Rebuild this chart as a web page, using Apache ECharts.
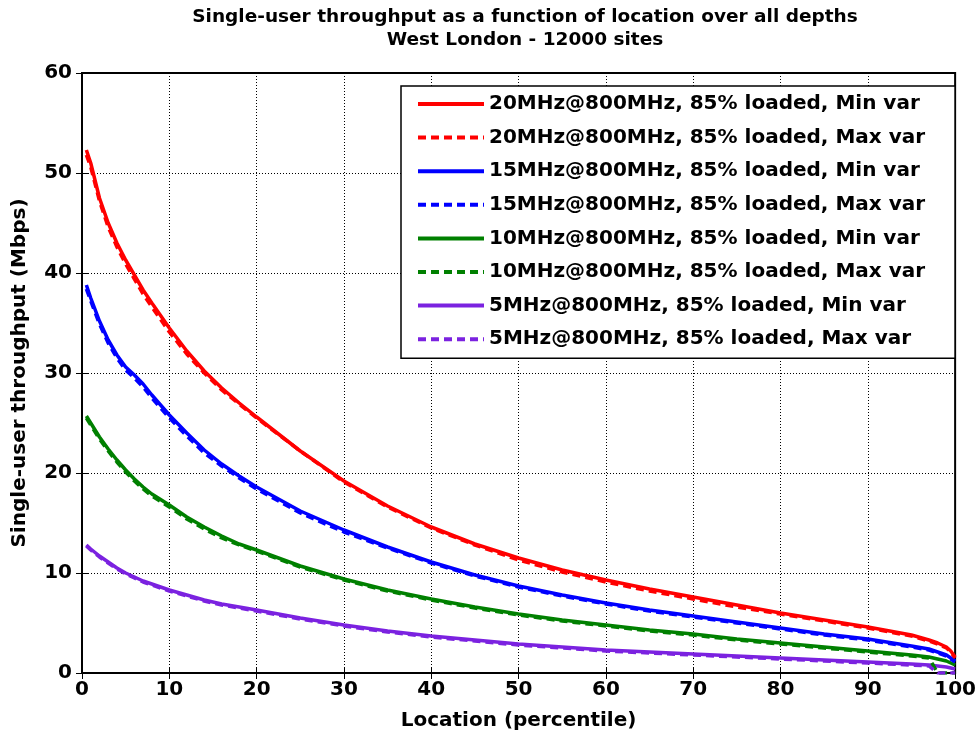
<!DOCTYPE html>
<html>
<head>
<meta charset="utf-8">
<script src="https://cdn.jsdelivr.net/npm/echarts@6/dist/echarts.min.js"></script>
<style>
  html, body { margin: 0; padding: 0; background: #fff; }
  #chart { width: 979px; height: 740px; }
</style>
</head>
<body>
<div id="chart"></div>
<script>
// percentile positions shared by all curves
const locations = [0.5, 1, 2, 3, 4, 5, 6, 7, 8, 10, 12, 14, 16, 18, 20, 25, 30, 35, 40, 45, 50, 55, 60, 65, 70, 75, 80, 85, 90, 95, 97, 98, 99, 99.5, 100];

const red20Min = [52.3, 51.0, 47.5, 45.0, 43.0, 41.3, 39.8, 38.3, 37.0, 34.5, 32.2, 30.2, 28.5, 27.0, 25.6, 22.2, 19.2, 16.7, 14.6, 12.9, 11.5, 10.3, 9.3, 8.4, 7.6, 6.8, 6.0, 5.3, 4.6, 3.8, 3.3, 3.0, 2.6, 2.2, 1.6];
const red20Max = [51.8, 50.6, 47.2, 44.6, 42.6, 40.9, 39.4, 37.9, 36.6, 34.1, 31.9, 30.0, 28.3, 26.9, 25.5, 22.2, 19.1, 16.6, 14.5, 12.8, 11.3, 10.1, 9.1, 8.2, 7.4, 6.6, 5.9, 5.2, 4.5, 3.7, 3.2, 2.9, 2.5, 2.1, 1.5];
const blue15Min = [38.8, 37.5, 35.2, 33.3, 31.8, 30.6, 29.8, 28.9, 27.8, 25.8, 24.0, 22.3, 20.9, 19.7, 18.6, 16.2, 14.3, 12.6, 11.1, 9.8, 8.7, 7.8, 7.0, 6.3, 5.7, 5.1, 4.5, 3.9, 3.4, 2.7, 2.4, 2.1, 1.8, 1.5, 1.2];
const blue15Max = [38.4, 37.2, 34.9, 33.0, 31.5, 30.3, 29.5, 28.6, 27.5, 25.5, 23.7, 22.0, 20.7, 19.5, 18.4, 16.0, 14.1, 12.5, 11.0, 9.7, 8.6, 7.7, 6.9, 6.2, 5.6, 5.0, 4.4, 3.8, 3.3, 2.6, 2.3, 2.0, 1.7, 1.4, 1.1];
const green10Min = [25.7, 25.0, 23.6, 22.4, 21.3, 20.3, 19.4, 18.6, 17.9, 16.8, 15.6, 14.6, 13.7, 12.9, 12.3, 10.7, 9.4, 8.3, 7.4, 6.6, 5.9, 5.3, 4.8, 4.3, 3.9, 3.4, 3.0, 2.6, 2.2, 1.8, 1.6, 1.4, 1.2, 1.0, 0.8];
const green10Max = [25.5, 24.8, 23.4, 22.2, 21.1, 20.1, 19.2, 18.4, 17.7, 16.6, 15.4, 14.4, 13.5, 12.8, 12.2, 10.6, 9.3, 8.2, 7.3, 6.5, 5.8, 5.2, 4.7, 4.2, 3.8, 3.3, 2.9, 2.5, 2.1, 1.7, 1.5, 0, 0, 0, 0];
const purple5Min = [12.8, 12.4, 11.7, 11.1, 10.5, 10.0, 9.6, 9.2, 8.9, 8.3, 7.8, 7.3, 6.9, 6.6, 6.3, 5.5, 4.8, 4.2, 3.7, 3.3, 2.9, 2.6, 2.3, 2.1, 1.9, 1.7, 1.5, 1.3, 1.1, 0.9, 0.8, 0.7, 0.6, 0.5, 0.4];
const purple5Max = [12.7, 12.3, 11.6, 11.0, 10.4, 9.9, 9.5, 9.1, 8.8, 8.2, 7.7, 7.2, 6.8, 6.5, 6.2, 5.4, 4.7, 4.1, 3.6, 3.2, 2.8, 2.5, 2.2, 2.0, 1.8, 1.6, 1.4, 1.2, 1.0, 0.8, 0.7, 0, 0, 0, 0];

const xTicks = [0, 10, 20, 30, 40, 50, 60, 70, 80, 90, 100];
const yTicks = [0, 10, 20, 30, 40, 50, 60];

const curves = [
  { name: '20MHz@800MHz, 85% loaded, Min var', color: '#ff0000', dashed: false, values: red20Min },
  { name: '20MHz@800MHz, 85% loaded, Max var', color: '#ff0000', dashed: true, values: red20Max },
  { name: '15MHz@800MHz, 85% loaded, Min var', color: '#0000ff', dashed: false, values: blue15Min },
  { name: '15MHz@800MHz, 85% loaded, Max var', color: '#0000ff', dashed: true, values: blue15Max },
  { name: '10MHz@800MHz, 85% loaded, Min var', color: '#008000', dashed: false, values: green10Min },
  { name: '10MHz@800MHz, 85% loaded, Max var', color: '#008000', dashed: true, values: green10Max },
  { name: '5MHz@800MHz, 85% loaded, Min var', color: '#7b22e0', dashed: false, values: purple5Min },
  { name: '5MHz@800MHz, 85% loaded, Max var', color: '#7b22e0', dashed: true, values: purple5Max },
];

const chart = echarts.init(document.getElementById('chart'));

const font = '"DejaVu Sans", sans-serif';
const boldText = (size) => ({ fontSize: size, fontWeight: 'bold', color: '#000', fontFamily: font });

const option = {
  animation: false,
  backgroundColor: '#fff',
  title: {
    text: 'Single-user throughput as a function of location over all depths\nWest London - 12000 sites',
    left: 520,
    top: 1,
    textAlign: 'center',
    textStyle: { ...boldText(18.5), lineHeight: 23 },
  },
  grid: {
    left: 82,
    right: 21,
    top: 73,
    bottom: 67,
    show: true,
    borderColor: '#000',
    borderWidth: 2,
  },
  legend: {
    orient: 'vertical',
    left: 401,
    top: 86,
    padding: [8, 30, 9, 15],
    itemWidth: 66,
    itemHeight: 14,
    itemGap: 13.6,
    borderColor: '#000',
    borderWidth: 1.5,
    backgroundColor: '#fff',
    itemStyle: { opacity: 0 },
    lineStyle: { width: 4 },
    textStyle: { ...boldText(20), lineHeight: 20 },
    data: curves.map(c => c.name),
  },
  xAxis: [
    {
      type: 'value',
      min: 0,
      max: 100,
      interval: 10,
      name: 'Location (percentile)',
      nameLocation: 'middle',
      nameGap: 38,
      nameTextStyle: boldText(20),
      axisLine: { show: true, lineStyle: { color: '#000', width: 2 } },
      axisTick: { show: true, inside: true, length: 6, lineStyle: { color: '#000' } },
      axisLabel: { ...boldText(20), margin: 7, formatter: v => xTicks.includes(v) ? String(v) : '' },
      splitLine: { show: true, lineStyle: { color: '#000', type: [1, 2], width: 1 } },
    },
    {
      type: 'value',
      min: 0,
      max: 100,
      interval: 10,
      position: 'top',
      axisLine: { show: true, lineStyle: { color: '#000', width: 2 } },
      axisTick: { show: true, inside: true, length: 6, lineStyle: { color: '#000' } },
      axisLabel: { show: false },
      splitLine: { show: false },
    },
  ],
  yAxis: [
    {
      type: 'value',
      min: 0,
      max: 60,
      interval: 10,
      name: 'Single-user throughput (Mbps)',
      nameLocation: 'middle',
      nameGap: 52,
      nameTextStyle: boldText(20),
      axisLine: { show: true, lineStyle: { color: '#000', width: 2 } },
      axisTick: { show: true, inside: true, length: 6, lineStyle: { color: '#000' } },
      axisLabel: { ...boldText(20), margin: 10, formatter: v => yTicks.includes(v) ? String(v) : '' },
      splitLine: { show: true, lineStyle: { color: '#000', type: [1, 2], width: 1 } },
    },
    {
      type: 'value',
      min: 0,
      max: 60,
      interval: 10,
      position: 'right',
      axisLine: { show: true, lineStyle: { color: '#000', width: 2 } },
      axisTick: { show: true, inside: true, length: 6, lineStyle: { color: '#000' } },
      axisLabel: { show: false },
      splitLine: { show: false },
    },
  ],
  series: curves.map(c => ({
    name: c.name,
    type: 'line',
    symbol: 'none',
    data: locations.map((x, i) => [x, c.values[i]]),
    itemStyle: { color: c.color },
    lineStyle: { color: c.color, width: 3.5, type: c.dashed ? [8, 5] : 'solid' },
    z: c.dashed ? 3 : 2,
  })),
};

chart.setOption(option);
</script>
</body>
</html>
